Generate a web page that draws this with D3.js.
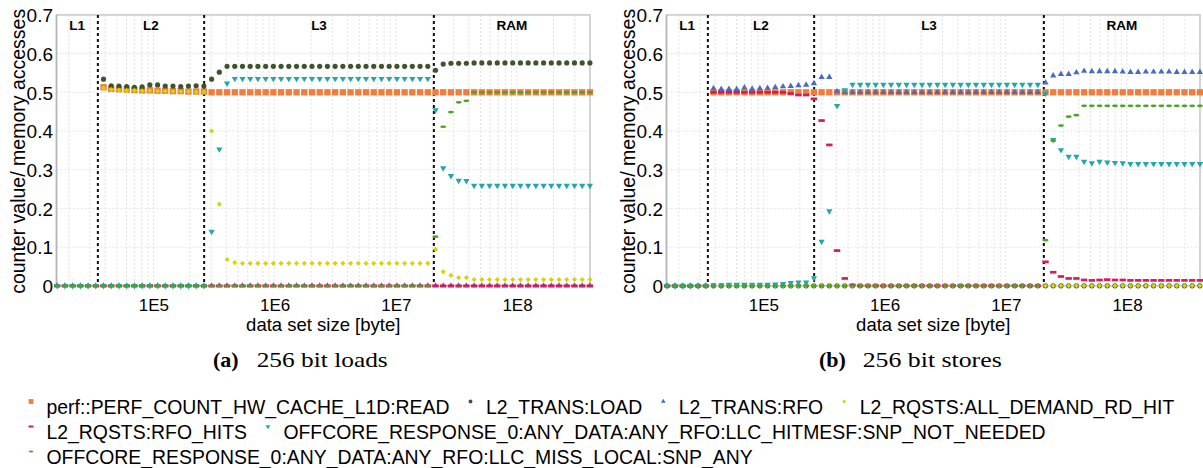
<!DOCTYPE html>
<html>
<head>
<meta charset="utf-8">
<title>cache counters</title>
<script src="https://cdnjs.cloudflare.com/ajax/libs/d3/7.8.5/d3.min.js"></script>
<style>
body { margin: 0; background: #fff; }
text { font-family: "Liberation Sans", Arial, sans-serif; fill: #000; }
.caption { font-family: "Liberation Serif", "Times New Roman", serif; }
</style>
</head>
<body>
<svg id="chart" width="1203" height="468"></svg>
<script>
// data set sizes in byte, one entry per measurement
var sizes = [
	1.607e4, 1.861e4, 2.155e4, 2.495e4, 2.889e4, 3.346e4,
	3.875e4, 4.487e4, 5.195e4, 6.016e4, 6.966e4, 8.067e4, 9.341e4,
	1.082e5, 1.252e5, 1.450e5, 1.680e5, 1.945e5, 2.252e5, 2.608e5,
	3.020e5, 3.497e5, 4.049e5, 4.689e5, 5.430e5, 6.288e5, 7.281e5, 8.432e5, 9.763e5,
	1.130e6, 1.309e6, 1.516e6, 1.756e6, 2.033e6, 2.354e6, 2.726e6, 3.157e6, 3.655e6, 4.233e6, 4.901e6, 5.675e6, 6.572e6, 7.611e6, 8.813e6,
	1.021e7, 1.182e7, 1.368e7, 1.585e7, 1.835e7, 2.125e7, 2.460e7, 2.849e7, 3.299e7, 3.820e7, 4.424e7, 5.123e7, 5.932e7, 6.869e7, 7.954e7, 9.211e7,
	1.067e8, 1.235e8, 1.430e8, 1.656e8, 1.918e8, 2.221e8, 2.571e8, 2.978e8, 3.448e8, 3.993e8
];

var region_bounds = [3.48e4, 262144, 2.06e7];
var region_names = ["L1", "L2", "L3", "RAM"];

var x_ticks = [1e5, 1e6, 1e7, 1e8];
var x_tick_labels = ["1E5", "1E6", "1E7", "1E8"];
var y_ticks = [0, 0.1, 0.2, 0.3, 0.4, 0.5, 0.6, 0.7];
var y_tick_labels = ["0", "0.1", "0.2", "0.3", "0.4", "0.5", "0.6", "0.7"];

var series_names = [
	"perf::PERF_COUNT_HW_CACHE_L1D:READ",
	"L2_TRANS:LOAD",
	"L2_TRANS:RFO",
	"L2_RQSTS:ALL_DEMAND_RD_HIT",
	"L2_RQSTS:RFO_HITS",
	"OFFCORE_RESPONSE_0:ANY_DATA:ANY_RFO:LLC_HITMESF:SNP_NOT_NEEDED",
	"OFFCORE_RESPONSE_0:ANY_DATA:ANY_RFO:LLC_MISS_LOCAL:SNP_ANY"
];
var series_colors = ["#ef7d3b", "#3e5430", "#4a6bc2", "#d8d400", "#d8195a", "#1fa9ab", "#4aa520"];
var series_shapes = ["square", "circle", "tri_up", "diamond", "dash", "tri_down", "pill"];

// (a) 256 bit loads, null = outside the plotted range
var loads_l1d_read = [
	null, null, null, null, null, null,
	0.513, 0.509, 0.508, 0.507, 0.506, 0.505, 0.505, 0.504, 0.504, 0.503, 0.503, 0.502, 0.502, 0.502,
	0.5, 0.5, 0.5, 0.5, 0.5, 0.5, 0.5, 0.5, 0.5, 0.5,
	0.5, 0.5, 0.5, 0.5, 0.5, 0.5, 0.5, 0.5, 0.5, 0.5,
	0.5, 0.5, 0.5, 0.5, 0.5, 0.5, 0.5, 0.5, 0.5,
	0.5,
	0.5, 0.5, 0.5, 0.5, 0.5, 0.5, 0.5, 0.5, 0.5, 0.5,
	0.5, 0.5, 0.5, 0.5, 0.5, 0.5, 0.5, 0.5, 0.5, 0.5
];
var loads_l2_trans_load = [
	null, null, null, null, null, null,
	0.534, 0.517, 0.516, 0.515, 0.513, 0.514, 0.519, 0.519, 0.516, 0.516, 0.515, 0.516, 0.517, 0.516,
	0.534, 0.552, 0.567, 0.567, 0.567, 0.567, 0.567, 0.567, 0.567, 0.567,
	0.567, 0.567, 0.567, 0.567, 0.567, 0.567, 0.567, 0.567, 0.567, 0.567,
	0.567, 0.567, 0.567, 0.567, 0.567, 0.567, 0.567, 0.567, 0.567,
	0.557,
	0.573, 0.575, 0.575, 0.575, 0.576, 0.576, 0.576, 0.576, 0.576, 0.576,
	0.576, 0.576, 0.576, 0.576, 0.576, 0.576, 0.576, 0.576, 0.576, 0.576
];
var loads_l2_trans_rfo = [
	0, 0, 0, 0, 0, 0,
	0, 0, 0, 0, 0, 0, 0, 0, 0, 0, 0, 0, 0, 0,
	0, 0, 0, 0, 0, 0, 0, 0, 0, 0,
	0, 0, 0, 0, 0, 0, 0, 0, 0, 0,
	0, 0, 0, 0, 0, 0, 0, 0, 0,
	0,
	0, 0, 0, 0, 0, 0, 0, 0, 0, 0,
	0, 0, 0, 0, 0, 0, 0, 0, 0, 0
];
var loads_all_demand_rd_hit = [
	null, null, null, null, null, null,
	0.511, 0.507, 0.506, 0.505, 0.505, 0.504, 0.504, 0.503, 0.503, 0.502, 0.502, 0.502, 0.501, 0.501,
	0.40, 0.211, 0.068, 0.060, 0.058, 0.058, 0.058, 0.058, 0.058, 0.058,
	0.058, 0.058, 0.058, 0.058, 0.058, 0.058, 0.058, 0.058, 0.058, 0.058,
	0.058, 0.058, 0.058, 0.058, 0.058, 0.058, 0.058, 0.058, 0.058,
	0.094,
	0.036, 0.027, 0.021, 0.021, 0.016, 0.016, 0.016, 0.016, 0.016, 0.016,
	0.016, 0.016, 0.016, 0.016, 0.016, 0.016, 0.016, 0.016, 0.016, 0.016
];
var loads_rfo_hits = [
	0, 0, 0, 0, 0, 0,
	0, 0, 0, 0, 0, 0, 0, 0, 0, 0, 0, 0, 0, 0,
	0, 0, 0, 0, 0, 0, 0, 0, 0, 0,
	0, 0, 0, 0, 0, 0, 0, 0, 0, 0,
	0, 0, 0, 0, 0, 0, 0, 0, 0,
	0,
	0, 0, 0, 0, 0, 0, 0, 0, 0, 0,
	0, 0, 0, 0, 0, 0, 0, 0, 0, 0
];
var loads_llc_hitmesf = [
	0, 0, 0, 0, 0, 0,
	0, 0, 0, 0, 0, 0, 0, 0, 0, 0, 0, 0, 0, 0,
	0.14, 0.353, 0.523, 0.535, 0.535, 0.535, 0.535, 0.535, 0.535, 0.535,
	0.535, 0.535, 0.535, 0.535, 0.535, 0.535, 0.535, 0.535, 0.535, 0.535,
	0.535, 0.535, 0.535, 0.535, 0.535, 0.535, 0.535, 0.535, 0.535,
	0.454,
	0.304, 0.284, 0.272, 0.271, 0.259, 0.259, 0.259, 0.259, 0.259, 0.259,
	0.259, 0.259, 0.259, 0.259, 0.259, 0.259, 0.259, 0.259, 0.259, 0.259
];
var loads_llc_miss_local = [
	0, 0, 0, 0, 0, 0,
	0, 0, 0, 0, 0, 0, 0, 0, 0, 0, 0, 0, 0, 0,
	0, 0, 0, 0, 0, 0, 0, 0, 0, 0,
	0, 0, 0, 0, 0, 0, 0, 0, 0, 0,
	0, 0, 0, 0, 0, 0, 0, 0, 0,
	0.127,
	0.411, 0.449, 0.474, 0.478, 0.5, 0.5, 0.5, 0.5, 0.5, 0.5,
	0.5, 0.5, 0.5, 0.5, 0.5, 0.5, 0.5, 0.5, 0.5, 0.5
];

// (b) 256 bit stores
var stores_l1d_read = [
	null, null, null, null, null, null,
	0.5, 0.5, 0.5, 0.5, 0.5, 0.5, 0.5, 0.5, 0.5, 0.5, 0.5, 0.5, 0.5, 0.5,
	0.5, 0.5, 0.5, 0.5, 0.5, 0.5, 0.5, 0.5, 0.5, 0.5,
	0.5, 0.5, 0.5, 0.5, 0.5, 0.5, 0.5, 0.5, 0.5, 0.5,
	0.5, 0.5, 0.5, 0.5, 0.5, 0.5, 0.5, 0.5, 0.5,
	0.5,
	0.5, 0.5, 0.5, 0.5, 0.5, 0.5, 0.5, 0.5, 0.5, 0.5,
	0.5, 0.5, 0.5, 0.5, 0.5, 0.5, 0.5, 0.5, 0.5, 0.5
];
var stores_l2_trans_load = [
	0, 0, 0, 0, 0, 0,
	0, 0, 0, 0, 0, 0, 0, 0, 0, 0, 0, 0, 0, 0,
	0, 0, 0, 0, 0, 0, 0, 0, 0, 0,
	0, 0, 0, 0, 0, 0, 0, 0, 0, 0,
	0, 0, 0, 0, 0, 0, 0, 0, 0,
	0,
	0, 0, 0, 0, 0, 0, 0, 0, 0, 0,
	0, 0, 0, 0, 0, 0, 0, 0, 0, 0
];
var stores_l2_trans_rfo = [
	0, 0, 0, 0, 0, 0,
	0.510, 0.508, 0.508, 0.508, 0.512, 0.509, 0.510, 0.511, 0.513, 0.515, 0.516, 0.518, 0.519, 0.523,
	0.539, 0.539, 0.502, 0.5, 0.5, 0.5, 0.5, 0.5, 0.5, 0.5,
	0.5, 0.5, 0.5, 0.5, 0.5, 0.5, 0.5, 0.5, 0.5, 0.5,
	0.5, 0.5, 0.5, 0.5, 0.5, 0.5, 0.5, 0.5, 0.5,
	0.525,
	0.543, 0.547, 0.547, 0.551, 0.555, 0.554, 0.554, 0.554, 0.554, 0.553,
	0.552, 0.552, 0.553, 0.553, 0.553, 0.553, 0.552, 0.552, 0.552, 0.552
];
var stores_all_demand_rd_hit = [
	0, 0, 0, 0, 0, 0,
	0, 0, 0, 0, 0, 0, 0, 0, 0, 0, 0, 0, 0, 0,
	0, 0, 0, 0, 0, 0, 0, 0, 0, 0,
	0, 0, 0, 0, 0, 0, 0, 0, 0, 0,
	0, 0, 0, 0, 0, 0, 0, 0, 0,
	0,
	0, 0, 0, 0, 0, 0, 0, 0, 0, 0,
	0, 0, 0, 0, 0, 0, 0, 0, 0, 0
];
var stores_rfo_hits = [
	0, 0, 0, 0, 0, 0,
	0.5, 0.5, 0.5, 0.5, 0.5, 0.5, 0.5, 0.5, 0.5, 0.5, 0.497, 0.493, 0.493, 0.483,
	0.427, 0.364, 0.091, 0.019, 0.002, 0, 0, 0, 0, 0,
	0, 0, 0, 0, 0, 0, 0, 0, 0, 0,
	0, 0, 0, 0, 0, 0, 0, 0, 0,
	0.062,
	0.035, 0.024, 0.019, 0.019, 0.015, 0.014, 0.015, 0.016, 0.015, 0.015,
	0.014, 0.014, 0.014, 0.014, 0.014, 0.014, 0.014, 0.014, 0.014, 0.014
];
var stores_llc_hitmesf = [
	0, 0, 0, 0, 0, 0,
	0.002, 0.002, 0.003, 0.003, 0.003, 0.003, 0.003, 0.003, 0.004, 0.005, 0.008, 0.009, 0.009, 0.02,
	0.114, 0.193, 0.465, 0.506, 0.52, 0.52, 0.52, 0.52, 0.52, 0.52,
	0.52, 0.52, 0.52, 0.52, 0.52, 0.52, 0.52, 0.52, 0.52, 0.52,
	0.52, 0.52, 0.52, 0.52, 0.52, 0.52, 0.52, 0.52, 0.52,
	0.497,
	0.377, 0.351, 0.334, 0.334, 0.321, 0.317, 0.321, 0.319, 0.318, 0.317,
	0.315, 0.315, 0.315, 0.315, 0.315, 0.315, 0.315, 0.315, 0.315, 0.315
];
var stores_llc_miss_local = [
	0, 0, 0, 0, 0, 0,
	0, 0, 0, 0, 0, 0, 0, 0, 0, 0, 0, 0, 0, 0,
	0, 0, 0, 0, 0, 0, 0, 0, 0, 0,
	0, 0, 0, 0, 0, 0, 0, 0, 0, 0,
	0, 0, 0, 0, 0, 0, 0, 0, 0,
	0.118,
	0.375, 0.414, 0.437, 0.441, 0.465, 0.465, 0.465, 0.465, 0.465, 0.465,
	0.465, 0.465, 0.465, 0.465, 0.465, 0.465, 0.465, 0.465, 0.465, 0.465
];

var panels = [
	{offset: 0, tag: "(a)", title: "256 bit loads", caption_x: 213, title_width: 131,
		series: [loads_l1d_read, loads_l2_trans_load, loads_l2_trans_rfo, loads_all_demand_rd_hit,
			loads_rfo_hits, loads_llc_hitmesf, loads_llc_miss_local]},
	{offset: 610, tag: "(b)", title: "256 bit stores", caption_x: 819, title_width: 139,
		series: [stores_l1d_read, stores_l2_trans_load, stores_l2_trans_rfo, stores_all_demand_rd_hit,
			stores_rfo_hits, stores_llc_hitmesf, stores_llc_miss_local]}
];

var svg = d3.select("#chart");
var plot_left = 56.5, plot_right = 590, plot_top = 14.9, plot_bottom = 285.8;

function marker_path(shape, s) {
	var w, h;
	switch (shape) {
		case "square": return d3.symbol(d3.symbolSquare, 40 * s * s)();
		case "circle": return d3.symbol(d3.symbolCircle, 21 * s * s)();
		case "tri_up":
		case "tri_down": return d3.symbol(d3.symbolTriangle, 17 * s * s)();
		case "diamond": return d3.symbol(d3.symbolSquare, 13 * s * s)();
		case "dash":
			w = 6.4 * s; h = 2.7 * s;
			return "M" + (-w / 2) + "," + (-h / 2) + "h" + w + "v" + h + "h" + (-w) + "Z";
		case "pill":
			w = 6 * s; h = 2.7 * s;
			return "M" + (-w / 2) + ",0a" + (w / 2) + "," + (h / 2) + " 0 1,0 " + w + ",0a" + (w / 2) + "," + (h / 2) + " 0 1,0 " + (-w) + ",0Z";
	}
}

function marker_rotation(shape) {
	if (shape == "tri_down") return 180;
	if (shape == "diamond") return 45;
	return 0;
}

function draw_panel(panel) {
	var g = svg.append("g").attr("transform", "translate(" + panel.offset + ",0)");
	var x = d3.scaleLog().domain([1.586e4, 4.0e8]).range([plot_left, plot_right]);
	var y = d3.scaleLinear().domain([0, 0.7]).range([plot_bottom, plot_top]);

	// light dotted grid
	g.append("g").selectAll("line").data(x.ticks()).join("line")
		.attr("x1", function(d) { return x(d); })
		.attr("x2", function(d) { return x(d); })
		.attr("y1", plot_top).attr("y2", plot_bottom)
		.attr("stroke", "#e2e2e2").attr("stroke-width", 1).attr("stroke-dasharray", "2,2");
	g.append("g").selectAll("line").data(y_ticks).join("line")
		.attr("x1", plot_left).attr("x2", plot_right)
		.attr("y1", function(d) { return y(d); })
		.attr("y2", function(d) { return y(d); })
		.attr("stroke", "#e2e2e2").attr("stroke-width", 1).attr("stroke-dasharray", "2,2");

	g.append("rect")
		.attr("x", plot_left).attr("y", plot_top)
		.attr("width", plot_right - plot_left).attr("height", plot_bottom - plot_top)
		.attr("fill", "none").attr("stroke", "#c8c8c8").attr("stroke-width", 1.5);
	g.append("line")
		.attr("x1", plot_left).attr("x2", plot_left).attr("y1", plot_top).attr("y2", plot_bottom)
		.attr("stroke", "#b4b4b4").attr("stroke-width", 1.5);

	// cache level boundaries
	g.append("g").selectAll("line").data(region_bounds).join("line")
		.attr("x1", function(d) { return x(d); })
		.attr("x2", function(d) { return x(d); })
		.attr("y1", plot_top).attr("y2", plot_bottom)
		.attr("stroke", "#111").attr("stroke-width", 2).attr("stroke-dasharray", "3,3");

	var edges = [x.domain()[0]].concat(region_bounds, [x.domain()[1]]);
	g.append("g").selectAll("text").data(region_names).join("text")
		.attr("x", function(d, i) { return (x(edges[i]) + x(edges[i + 1])) / 2; })
		.attr("y", 30)
		.attr("text-anchor", "middle")
		.attr("font-weight", "bold")
		.attr("font-size", "13.5px")
		.text(function(d) { return d; });

	// axes
	var x_axis = g.append("g").attr("transform", "translate(0," + plot_bottom + ")")
		.call(d3.axisBottom(x).tickValues(x_ticks).tickSize(0)
			.tickFormat(function(d, i) { return x_tick_labels[i]; }));
	x_axis.select(".domain").remove();
	x_axis.selectAll("text").attr("y", 25.7).attr("dy", 0)
		.attr("font-size", "17px").attr("font-family", "Liberation Sans, Arial, sans-serif").attr("fill", "#000");

	var y_axis = g.append("g").attr("transform", "translate(" + plot_left + ",0)")
		.call(d3.axisLeft(y).tickValues(y_ticks).tickSize(0).tickPadding(3.5)
			.tickFormat(function(d, i) { return y_tick_labels[i]; }));
	y_axis.select(".domain").remove();
	y_axis.selectAll("text").attr("dy", "0.36em")
		.attr("font-size", "19px").attr("font-family", "Liberation Sans, Arial, sans-serif").attr("fill", "#000");

	g.append("text")
		.attr("x", (plot_left + plot_right) / 2).attr("y", 331)
		.attr("text-anchor", "middle").attr("font-size", "18.5px")
		.text("data set size [byte]");
	g.append("text")
		.attr("transform", "translate(24.5," + ((plot_top + plot_bottom) / 2 + 1) + ") rotate(-90)")
		.attr("text-anchor", "middle").attr("font-size", "19.5px")
		.text("counter value/ memory accesses");

	// markers, later series on top
	panel.series.forEach(function(values, i) {
		var shape = series_shapes[i];
		var points = values.map(function(v, k) { return {size: sizes[k], value: v}; })
			.filter(function(p) { return p.value !== null; });
		g.append("g").selectAll("path").data(points).join("path")
			.attr("transform", function(p) {
				return "translate(" + x(p.size) + "," + y(p.value) + ") rotate(" + marker_rotation(shape) + ")";
			})
			.attr("d", marker_path(shape, 1))
			.attr("fill", series_colors[i]);
	});

	var caption = g.append("text").attr("class", "caption")
		.attr("x", panel.caption_x - panel.offset).attr("y", 367).attr("font-size", "22px");
	caption.append("tspan").attr("font-weight", "bold").text(panel.tag);
	caption.append("tspan")
		.attr("x", panel.caption_x - panel.offset + 43.7)
		.attr("textLength", panel.title_width).attr("lengthAdjust", "spacingAndGlyphs")
		.text(panel.title);
}

panels.forEach(draw_panel);

// legend, items flow left to right in each row
var legend_rows = [
	{y: 413.5, items: [0, 1, 2, 3]},
	{y: 438.5, items: [4, 5]},
	{y: 463.5, items: [6]}
];
var legend = svg.append("g");
legend_rows.forEach(function(row) {
	var cursor = 31;
	row.items.forEach(function(s) {
		legend.append("path")
			.attr("transform", "translate(" + cursor + "," + (row.y - 12) + ") rotate(" + marker_rotation(series_shapes[s]) + ")")
			.attr("d", marker_path(series_shapes[s], 0.75))
			.attr("fill", series_colors[s]);
		var label = legend.append("text")
			.attr("x", cursor + 15.5).attr("y", row.y)
			.attr("font-size", "19.4px")
			.text(series_names[s]);
		cursor = cursor + 15.5 + label.node().getComputedTextLength() + 21;
	});
});
</script>
</body>
</html>
